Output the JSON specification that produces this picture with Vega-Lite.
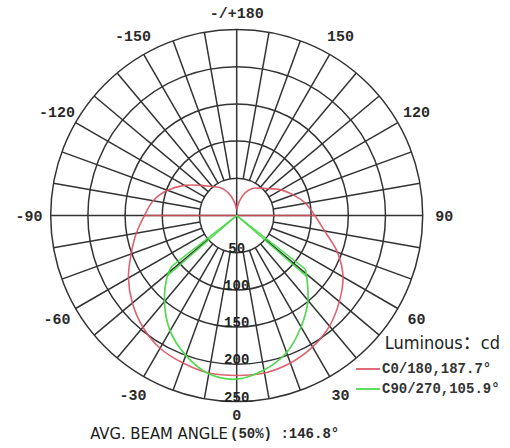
{
  "$schema": "https://vega.github.io/schema/vega-lite/v6.json",
  "width": 510,
  "height": 448,
  "autosize": "none",
  "padding": 0,
  "background": "white",
  "config": {"view": {"stroke": null}},
  "datasets": {
    "red": [
      {"angle": -180, "cd": 8}, {"angle": -170, "cd": 19}, {"angle": -160, "cd": 32}, {"angle": -150, "cd": 43},
      {"angle": -140, "cd": 51}, {"angle": -130, "cd": 63}, {"angle": -120, "cd": 81}, {"angle": -110, "cd": 99},
      {"angle": -100, "cd": 114}, {"angle": -90, "cd": 124}, {"angle": -80, "cd": 137}, {"angle": -70, "cd": 151},
      {"angle": -60, "cd": 168}, {"angle": -50, "cd": 183}, {"angle": -40, "cd": 196}, {"angle": -30, "cd": 206},
      {"angle": -20, "cd": 211}, {"angle": -10, "cd": 215}, {"angle": 0, "cd": 215}, {"angle": 10, "cd": 215},
      {"angle": 20, "cd": 211}, {"angle": 30, "cd": 204}, {"angle": 40, "cd": 194}, {"angle": 50, "cd": 180},
      {"angle": 60, "cd": 165}, {"angle": 70, "cd": 144}, {"angle": 80, "cd": 120}, {"angle": 90, "cd": 105},
      {"angle": 100, "cd": 94}, {"angle": 110, "cd": 81}, {"angle": 120, "cd": 69}, {"angle": 130, "cd": 56},
      {"angle": 140, "cd": 48}, {"angle": 150, "cd": 42}, {"angle": 160, "cd": 32}, {"angle": 170, "cd": 19},
      {"angle": 180, "cd": 8}
    ],
    "redRay": [{"angle": -90, "cd": 124}, {"angle": 90, "cd": 105}],
    "green": [
      {"angle": -52, "cd": 110}, {"angle": -50, "cd": 120}, {"angle": -40, "cd": 151}, {"angle": -30, "cd": 179},
      {"angle": -20, "cd": 200}, {"angle": -10, "cd": 216}, {"angle": 0, "cd": 220}, {"angle": 10, "cd": 211},
      {"angle": 20, "cd": 196}, {"angle": 30, "cd": 173}, {"angle": 40, "cd": 149}, {"angle": 50, "cd": 122},
      {"angle": 52, "cd": 117}
    ],
    "greenRay": [{"angle": -52, "cd": 110}, {"angle": -49, "cd": 123}, {"angle": 49, "cd": 125}, {"angle": 52, "cd": 117}],
    "rings": [{"ring": 50}, {"ring": 100}, {"ring": 150}, {"ring": 200}, {"ring": 250}],
    "spokes": [
      {"angle": -170, "from": 50, "to": 250}, {"angle": -160, "from": 50, "to": 250}, {"angle": -150, "from": 50, "to": 250},
      {"angle": -140, "from": 50, "to": 250}, {"angle": -130, "from": 50, "to": 250}, {"angle": -120, "from": 50, "to": 250},
      {"angle": -110, "from": 50, "to": 250}, {"angle": -100, "from": 50, "to": 250}, {"angle": -90, "from": 0, "to": 250},
      {"angle": -80, "from": 50, "to": 250}, {"angle": -70, "from": 50, "to": 250}, {"angle": -60, "from": 50, "to": 250},
      {"angle": -50, "from": 50, "to": 250}, {"angle": -40, "from": 50, "to": 250}, {"angle": -30, "from": 50, "to": 250},
      {"angle": -20, "from": 50, "to": 250}, {"angle": -10, "from": 50, "to": 250}, {"angle": 0, "from": 0, "to": 250},
      {"angle": 10, "from": 50, "to": 250}, {"angle": 20, "from": 50, "to": 250}, {"angle": 30, "from": 50, "to": 250},
      {"angle": 40, "from": 50, "to": 250}, {"angle": 50, "from": 50, "to": 250}, {"angle": 60, "from": 50, "to": 250},
      {"angle": 70, "from": 50, "to": 250}, {"angle": 80, "from": 50, "to": 250}, {"angle": 90, "from": 0, "to": 250},
      {"angle": 100, "from": 50, "to": 250}, {"angle": 110, "from": 50, "to": 250}, {"angle": 120, "from": 50, "to": 250},
      {"angle": 130, "from": 50, "to": 250}, {"angle": 140, "from": 50, "to": 250}, {"angle": 150, "from": 50, "to": 250},
      {"angle": 160, "from": 50, "to": 250}, {"angle": 170, "from": 50, "to": 250}, {"angle": 180, "from": 0, "to": 250}
    ],
    "angleLabels": [
      {"angle": 180, "label": "-/+180"}, {"angle": 150, "label": "150"}, {"angle": 120, "label": "120"},
      {"angle": 90, "label": "90"}, {"angle": 60, "label": "60"}, {"angle": 30, "label": "30"},
      {"angle": 0, "label": "0"}, {"angle": -30, "label": "-30"}, {"angle": -60, "label": "-60"},
      {"angle": -90, "label": "-90"}, {"angle": -120, "label": "-120"}, {"angle": -150, "label": "-150"}
    ],
    "caption": [{"part": "AVG. BEAM ANGLE", "side": "left"}, {"part": "(50%) :146.8°", "side": "right"}]
  },
  "encoding": {
    "x": {"field": "x", "type": "quantitative", "scale": {"domain": [-318.1, 367.3], "nice": false, "zero": false}, "axis": null},
    "y": {"field": "y", "type": "quantitative", "scale": {"domain": [-312.5, 289.7], "nice": false, "zero": false}, "axis": null}
  },
  "layer": [
    {
      "data": {"name": "rings"},
      "transform": [
        {"calculate": "0", "as": "x"},
        {"calculate": "0", "as": "y"}
      ],
      "mark": {"type": "point", "shape": "circle", "filled": false, "color": "#333333", "strokeWidth": 1.5, "opacity": 1},
      "encoding": {
        "size": {"field": "ring", "type": "quantitative", "scale": {"type": "pow", "exponent": 2, "domain": [0, 250], "range": [0, 138384]}, "legend": null}
      }
    },
    {
      "data": {"name": "spokes"},
      "transform": [
        {"calculate": "datum.from * sin(datum.angle * PI / 180)", "as": "x"},
        {"calculate": "-datum.from * cos(datum.angle * PI / 180)", "as": "y"},
        {"calculate": "datum.to * sin(datum.angle * PI / 180)", "as": "x2"},
        {"calculate": "-datum.to * cos(datum.angle * PI / 180)", "as": "y2"}
      ],
      "mark": {"type": "rule", "color": "#333333", "strokeWidth": 1.5},
      "encoding": {"x2": {"field": "x2"}, "y2": {"field": "y2"}}
    },
    {
      "data": {"name": "redRay"},
      "transform": [
        {"calculate": "datum.cd * sin(datum.angle * PI / 180)", "as": "x"},
        {"calculate": "-datum.cd * cos(datum.angle * PI / 180)", "as": "y"},
        {"calculate": "0", "as": "x0"},
        {"calculate": "0", "as": "y0"},
        {"calculate": "'C0/180,187.7°'", "as": "series"}
      ],
      "mark": {"type": "rule", "strokeWidth": 1.6, "opacity": 0.85},
      "encoding": {
        "x": {"field": "x0", "type": "quantitative"},
        "y": {"field": "y0", "type": "quantitative"},
        "x2": {"field": "x"},
        "y2": {"field": "y"},
        "color": {"field": "series", "type": "nominal", "scale": {"domain": ["C0/180,187.7°", "C90/270,105.9°"], "range": ["#d9525f", "#48d848"]}}
      }
    },
    {
      "data": {"name": "greenRay"},
      "transform": [
        {"calculate": "datum.cd * sin(datum.angle * PI / 180)", "as": "x"},
        {"calculate": "-datum.cd * cos(datum.angle * PI / 180)", "as": "y"},
        {"calculate": "0", "as": "x0"},
        {"calculate": "0", "as": "y0"},
        {"calculate": "'C90/270,105.9°'", "as": "series"}
      ],
      "mark": {"type": "rule", "strokeWidth": 1.6, "opacity": 0.9},
      "encoding": {
        "x": {"field": "x0", "type": "quantitative"},
        "y": {"field": "y0", "type": "quantitative"},
        "x2": {"field": "x"},
        "y2": {"field": "y"},
        "color": {"field": "series", "type": "nominal"}
      }
    },
    {
      "data": {"name": "red"},
      "transform": [
        {"calculate": "datum.cd * sin(datum.angle * PI / 180)", "as": "x"},
        {"calculate": "-datum.cd * cos(datum.angle * PI / 180)", "as": "y"},
        {"calculate": "'C0/180,187.7°'", "as": "series"}
      ],
      "mark": {"type": "line", "strokeWidth": 1.6, "interpolate": "catmull-rom", "opacity": 0.9},
      "encoding": {
        "order": {"field": "angle", "type": "quantitative"},
        "color": {"field": "series", "type": "nominal"}
      }
    },
    {
      "data": {"name": "green"},
      "transform": [
        {"calculate": "datum.cd * sin(datum.angle * PI / 180)", "as": "x"},
        {"calculate": "-datum.cd * cos(datum.angle * PI / 180)", "as": "y"},
        {"calculate": "'C90/270,105.9°'", "as": "series"}
      ],
      "mark": {"type": "line", "strokeWidth": 1.7, "interpolate": "catmull-rom", "opacity": 0.95},
      "encoding": {
        "order": {"field": "angle", "type": "quantitative"},
        "color": {
          "field": "series", "type": "nominal",
          "legend": {
            "orient": "none", "legendX": 355, "legendY": 335, "padding": 0,
            "title": "Luminous：cd",
            "titleFont": "Liberation Sans Narrow, DejaVu Sans Condensed, Noto Sans CJK SC, sans-serif",
            "titleFontSize": 18, "titleFontWeight": "normal", "titleColor": "#222222",
            "titleAnchor": "end", "titleAlign": "right", "titlePadding": 3, "titleLimit": 300,
            "labelFont": "Liberation Mono", "labelFontSize": 14, "labelFontWeight": "bold",
            "labelColor": "#333333", "labelOffset": 1, "labelLimit": 300,
            "symbolType": "stroke", "symbolSize": 576, "symbolStrokeWidth": 2, "rowPadding": 0
          }
        }
      }
    },
    {
      "data": {"name": "rings"},
      "transform": [
        {"calculate": "0", "as": "x"},
        {"calculate": "-datum.ring", "as": "y"}
      ],
      "mark": {"type": "text", "font": "Liberation Mono", "fontWeight": "bold", "fontSize": 14, "baseline": "alphabetic", "align": "center", "color": "#222222"},
      "encoding": {
        "text": {"field": "ring", "type": "quantitative"}
      }
    },
    {
      "data": {"name": "angleLabels"},
      "transform": [
        {"calculate": "datum.angle == 180 ? 272 : (datum.angle == 0 ? 268 : 279)", "as": "r"},
        {"calculate": "datum.r * sin(datum.angle * PI / 180)", "as": "x"},
        {"calculate": "-datum.r * cos(datum.angle * PI / 180)", "as": "y"}
      ],
      "mark": {"type": "text", "font": "Liberation Mono", "fontWeight": "bold", "fontSize": 15, "baseline": "middle", "align": "center", "color": "#2a2a2a"},
      "encoding": {"text": {"field": "label"}}
    },
    {
      "data": {"name": "caption"},
      "transform": [
        {"filter": "datum.side == 'left'"},
        {"calculate": "-11.7", "as": "x"},
        {"calculate": "-294", "as": "y"}
      ],
      "mark": {"type": "text", "font": "Liberation Sans Narrow, DejaVu Sans Condensed, sans-serif", "fontSize": 16.5, "baseline": "middle", "align": "right", "color": "#1a1a1a"},
      "encoding": {"text": {"field": "part"}}
    },
    {
      "data": {"name": "caption"},
      "transform": [
        {"filter": "datum.side == 'right'"},
        {"calculate": "-9", "as": "x"},
        {"calculate": "-294", "as": "y"}
      ],
      "mark": {"type": "text", "font": "Liberation Mono", "fontWeight": "bold", "fontSize": 14, "baseline": "middle", "align": "left", "color": "#2a2a2a"},
      "encoding": {"text": {"field": "part"}}
    }
  ]
}
